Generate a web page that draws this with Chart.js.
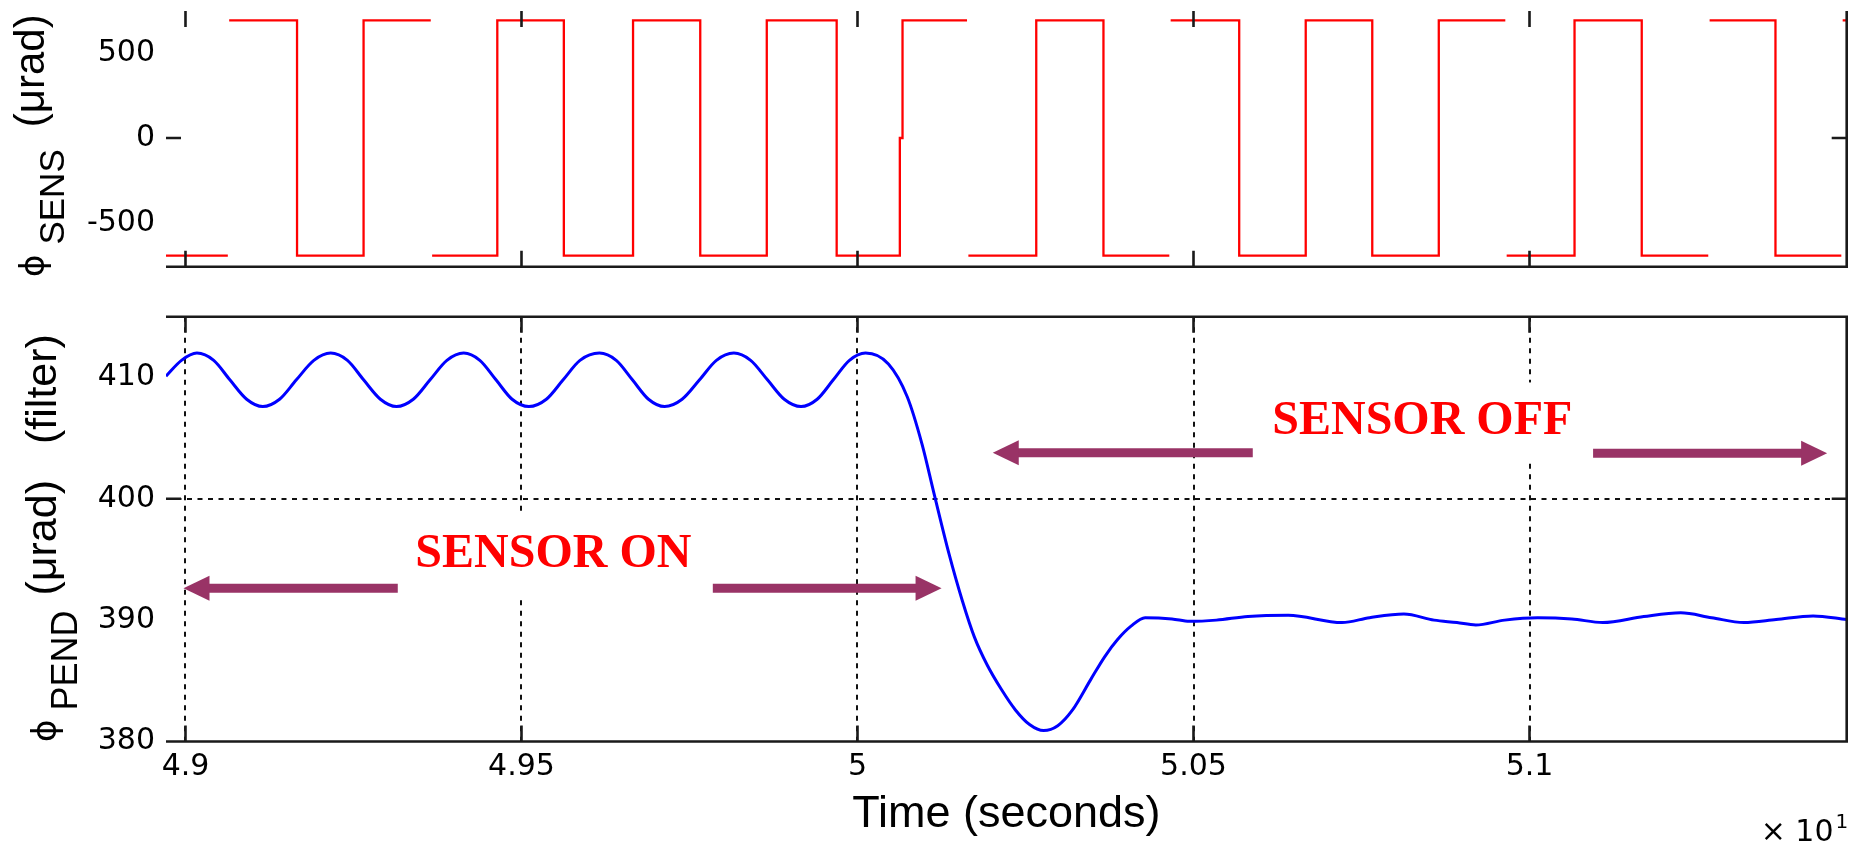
<!DOCTYPE html>
<html>
<head>
<meta charset="utf-8">
<script src="https://cdn.jsdelivr.net/npm/chart.js@4.4.1/dist/chart.umd.min.js"></script>
<style>
html, body { margin: 0; padding: 0; background: #ffffff; width: 1853px; height: 843px; overflow: hidden; }
#sens { position: absolute; left: 0; top: 0; }
#pend { position: absolute; left: 0; top: 290px; }
</style>
</head>
<body>
<canvas id="sens" width="1853" height="280"></canvas>
<canvas id="pend" width="1853" height="553"></canvas>
<script>
// ---------- data (time axis in units of 10 s, as in the original "x 10^1") ----------
const xMin = 4.8971;
const xMax = 5.1472;
const xTickValues = [4.9, 4.95, 5.0, 5.05, 5.1];
const xTickLabels = ['4.9', '4.95', '5', '5.05', '5.1'];

// sensor signal (square wave, µrad). null = break in the plotted trace
const sensTimes = [4.8971, 4.9063, 4.9064, 4.9065, 4.9166, 4.9265, 4.9365, 4.9366, 4.9367, 4.9464,
  4.9563, 4.9666, 4.9766, 4.9865, 4.9969, 5.0063, 5.0067, 5.0163, 5.0164, 5.0165,
  5.0266, 5.0366, 5.0464, 5.0465, 5.0466, 5.0568, 5.0667, 5.0766, 5.0865, 5.0964,
  5.0965, 5.0966, 5.1067, 5.1167, 5.1266, 5.1267, 5.1268, 5.1366, 5.1464, 5.1465,
  5.1466, 5.1472];
const sensValues = [-690, -690, null, 690, -690, 690, 690, null, -690, 690,
  -690, 690, -690, 690, -690, 0, 690, 690, null, -690,
  690, -690, -690, null, 690, -690, 690, -690, 690, 690,
  null, -690, 690, -690, -690, null, 690, -690, -690, null,
  690, 690];
const sensMin = -755, sensMax = 745;
const sensTickValues = [-500, 0, 500];
const sensTickLabels = ['-500', '0', '500'];
const sensMarkedTicks = [0];

// pendulum angle (filtered, µrad)
const pendTimes = [4.8971, 4.8994, 4.9017, 4.9042, 4.9066, 4.9091, 4.9115, 4.9140, 4.9165, 4.9191,
  4.9216, 4.9241, 4.9265, 4.9290, 4.9314, 4.9339, 4.9364, 4.9389, 4.9414, 4.9438,
  4.9462, 4.9486, 4.9511, 4.9537, 4.9562, 4.9587, 4.9616, 4.9641, 4.9665, 4.9689,
  4.9713, 4.9739, 4.9765, 4.9790, 4.9816, 4.9841, 4.9866, 4.9891, 4.9916, 4.9940,
  4.9964, 4.9988, 5.0012, 5.0046, 5.0074, 5.0096, 5.0114, 5.0136, 5.0156, 5.0174,
  5.0193, 5.0214, 5.0235, 5.0256, 5.0277, 5.0298, 5.0320, 5.0347, 5.0368, 5.0387,
  5.0407, 5.0428, 5.0468, 5.0494, 5.0534, 5.0581, 5.0641, 5.0721, 5.0762, 5.0813,
  5.0858, 5.0892, 5.0920, 5.0963, 5.1012, 5.1063, 5.1109, 5.1170, 5.1225, 5.1271,
  5.1319, 5.1367, 5.1422, 5.1472];
const pendValues = [410.1, 411.4, 412.0, 411.4, 409.8, 408.2, 407.6, 408.2, 409.8, 411.4,
  412.0, 411.4, 409.8, 408.2, 407.6, 408.2, 409.8, 411.4, 412.0, 411.4,
  409.8, 408.2, 407.6, 408.2, 409.8, 411.4, 412.0, 411.4, 409.8, 408.2,
  407.6, 408.2, 409.8, 411.4, 412.0, 411.4, 409.8, 408.2, 407.6, 408.2,
  409.8, 411.4, 412.0, 411.1, 408.4, 404.5, 400.4, 395.5, 391.6, 388.6,
  386.3, 384.3, 382.6, 381.4, 380.9, 381.3, 382.6, 385.1, 387.0, 388.4,
  389.5, 390.2, 390.1, 389.9, 390.0, 390.3, 390.4, 389.8, 390.2, 390.5,
  390.0, 389.8, 389.6, 390.0, 390.2, 390.1, 389.8, 390.3, 390.6, 390.2,
  389.8, 390.05, 390.35, 390.05];
const pendMin = 380, pendMax = 415;
const pendTickValues = [380, 390, 400, 410];
const pendTickLabels = ['380', '390', '400', '410'];
const pendMarkedTicks = [400];
const pendGridValues = [400];

// annotations (data coordinates)
const noteLabels = [
  { text: 'SENSOR ON', x: 4.95474, y: 395.37 },
  { text: 'SENSOR OFF', x: 5.08405, y: 406.37 }
];
const noteArrows = [
  { from: 4.93159, to: 4.8997, y: 392.63 },
  { from: 4.97847, to: 5.01251, y: 392.63 },
  { from: 5.05882, to: 5.02013, y: 403.8 },
  { from: 5.10946, to: 5.14429, y: 403.75 }
];

// axis titles (rotated, with subscripts)
const sensTitleParts = [
  { text: 'ϕ', font: '34px "DejaVu Sans"', shift: 0 },
  { gap: 10 },
  { text: 'SENS', font: '35px "Liberation Sans"', shift: 20 },
  { gap: 22 },
  { text: '(μrad)', font: '42px "Liberation Sans"', shift: 0 }
];
const pendTitleParts = [
  { text: 'ϕ', font: '34px "DejaVu Sans"', shift: 0 },
  { gap: 9 },
  { text: 'PEND', font: '36px "Liberation Sans"', shift: 20.5 },
  { gap: 15 },
  { text: '(μrad)', font: '43px "Liberation Sans"', shift: 0 },
  { gap: 36 },
  { text: '(filter)', font: '43px "Liberation Sans"', shift: 0 }
];

// ---------- styling ----------
const INK = '#1a1a1a';
const GRID_INK = '#111111';
const TICK_FONT = { family: 'DejaVu Sans', size: 30 };
Chart.defaults.font.family = 'DejaVu Sans';
Chart.defaults.color = '#000';

function drawRotated(ctx, parts, baseX, startY) {
  ctx.save();
  ctx.translate(baseX, startY);
  ctx.rotate(-Math.PI / 2);
  ctx.fillStyle = '#000000';
  ctx.textAlign = 'left';
  ctx.textBaseline = 'alphabetic';
  let pos = 0;
  for (let i = 0; i < parts.length; i++) {
    const p = parts[i];
    if (typeof p.gap === 'number') { pos += p.gap; continue; }
    ctx.font = p.font;
    ctx.fillText(p.text, pos, p.shift);
    pos += ctx.measureText(p.text).width;
  }
  ctx.restore();
}

function makeFrame(cfg) {
  return {
    id: 'frame',
    afterDraw(chart) {
      const { ctx, chartArea: a, scales } = chart;
      const x = scales.x, y = scales.y;
      ctx.save();
      ctx.strokeStyle = INK;
      ctx.lineWidth = 2.6;
      ctx.lineCap = 'butt';
      ctx.beginPath();
      if (cfg.top) { ctx.moveTo(a.left, a.top); ctx.lineTo(a.right + 1.3, a.top); }
      if (cfg.bottom) { ctx.moveTo(a.left, a.bottom); ctx.lineTo(a.right + 1.3, a.bottom); }
      if (cfg.right) { ctx.moveTo(a.right, a.top); ctx.lineTo(a.right, a.bottom); }
      x.ticks.forEach(t => {
        const p = x.getPixelForValue(t.value);
        ctx.moveTo(p, a.top); ctx.lineTo(p, a.top + 16);
        ctx.moveTo(p, a.bottom); ctx.lineTo(p, a.bottom - 16);
      });
      cfg.yTicks.forEach(v => {
        const p = y.getPixelForValue(v);
        ctx.moveTo(a.left, p); ctx.lineTo(a.left + 15, p);
        ctx.moveTo(a.right, p); ctx.lineTo(a.right - 15, p);
      });
      ctx.stroke();
      ctx.restore();

      drawRotated(ctx, cfg.titleParts, cfg.titleX, cfg.titleY);

      if (cfg.exponent) {
        ctx.save();
        ctx.fillStyle = '#000000';
        ctx.textAlign = 'left';
        ctx.textBaseline = 'alphabetic';
        ctx.font = '30px "DejaVu Sans"';
        const sx = a.right - 86;
        ctx.fillText('× 10', sx, 551);
        const w = ctx.measureText('× 10').width;
        ctx.font = '20px "DejaVu Sans"';
        ctx.fillText('1', sx + w + 2, 538);
        ctx.restore();
      }
    }
  };
}

const notesPlugin = {
  id: 'notes',
  afterDatasetsDraw(chart) {
    const { ctx, scales: { x, y } } = chart;
    ctx.save();
    ctx.font = 'bold 48px "Liberation Serif"';
    noteLabels.forEach(l => {
      const w = ctx.measureText(l.text).width;
      const cx = x.getPixelForValue(l.x), cy = y.getPixelForValue(l.y);
      ctx.fillStyle = '#ffffff';
      ctx.fillRect(cx - w / 2 - 10, cy - 39, w + 20, 80);
      ctx.fillStyle = '#ff0000';
      ctx.textAlign = 'center';
      ctx.textBaseline = 'middle';
      ctx.fillText(l.text, cx, cy);
    });
    const col = '#993366', headLen = 26, headHalf = 12.5;
    noteArrows.forEach(ar => {
      const x0 = x.getPixelForValue(ar.from), x1 = x.getPixelForValue(ar.to), py = y.getPixelForValue(ar.y);
      const dir = Math.sign(x1 - x0);
      const base = x1 - dir * headLen;
      ctx.strokeStyle = col;
      ctx.lineWidth = 9;
      ctx.lineCap = 'butt';
      ctx.beginPath(); ctx.moveTo(x0, py); ctx.lineTo(base + dir, py); ctx.stroke();
      ctx.fillStyle = col;
      ctx.beginPath();
      ctx.moveTo(x1, py);
      ctx.lineTo(base, py - headHalf);
      ctx.lineTo(base, py + headHalf);
      ctx.closePath();
      ctx.fill();
    });
    ctx.restore();
  }
};

function fixedTicks(values) {
  return scale => { scale.ticks = values.map(v => ({ value: v })); };
}
function fixWidth(w) {
  return s => { s.width = w; s.paddingTop = 0; s.paddingBottom = 0; s.paddingLeft = 0; s.paddingRight = 0; };
}
function fixHeight(h) {
  return s => { s.height = h; s.paddingTop = 0; s.paddingBottom = 0; s.paddingLeft = 0; s.paddingRight = 0; };
}

// ---------- top panel: sensor signal ----------
new Chart(document.getElementById('sens'), {
  type: 'line',
  data: {
    datasets: [{
      data: sensTimes.map((t, i) => ({ x: t, y: sensValues[i] })),
      borderColor: '#ff0000',
      borderWidth: 2.3,
      pointRadius: 0,
      stepped: true,
      fill: false,
      spanGaps: false
    }]
  },
  options: {
    responsive: false,
    animation: false,
    devicePixelRatio: 1,
    layout: { padding: { top: 11, right: 6.3, left: 0, bottom: 0 } },
    plugins: { legend: { display: false }, tooltip: { enabled: false } },
    scales: {
      x: {
        type: 'linear', min: xMin, max: xMax,
        afterBuildTicks: fixedTicks(xTickValues),
        afterFit: fixHeight(13.3),
        ticks: { display: false },
        grid: { display: false, drawTicks: false },
        border: { display: false }
      },
      y: {
        type: 'linear', min: sensMin, max: sensMax,
        afterBuildTicks: fixedTicks(sensTickValues),
        afterFit: fixWidth(166),
        ticks: { font: TICK_FONT, color: '#000', padding: 11, callback: (v, i) => sensTickLabels[i] },
        grid: { display: false, drawTicks: false },
        border: { display: false }
      }
    }
  },
  plugins: [makeFrame({
    top: false, bottom: true, right: true, yTicks: sensMarkedTicks,
    titleParts: sensTitleParts, titleX: 43.5, titleY: 277, exponent: false
  })]
});

// ---------- bottom panel: pendulum angle ----------
new Chart(document.getElementById('pend'), {
  type: 'line',
  data: {
    datasets: [{
      data: pendTimes.map((t, i) => ({ x: t, y: pendValues[i] })),
      borderColor: '#0000ff',
      borderWidth: 3,
      pointRadius: 0,
      cubicInterpolationMode: 'monotone',
      fill: false
    }]
  },
  options: {
    responsive: false,
    animation: false,
    devicePixelRatio: 1,
    layout: { padding: { top: 26.7, right: 6.3, left: 0, bottom: 0 } },
    plugins: { legend: { display: false }, tooltip: { enabled: false } },
    scales: {
      x: {
        type: 'linear', min: xMin, max: xMax,
        afterBuildTicks: fixedTicks(xTickValues),
        afterFit: fixHeight(101.5),
        ticks: { font: TICK_FONT, color: '#000', padding: 8, maxRotation: 0, callback: (v, i) => xTickLabels[i] },
        grid: { display: true, drawTicks: false, color: GRID_INK, lineWidth: 2 },
        border: { display: false, dash: [5, 5.5] },
        title: {
          display: true, text: 'Time (seconds)', color: '#000',
          font: { family: 'Liberation Sans', size: 45 },
          padding: { top: 0, bottom: 1.2 }
        }
      },
      y: {
        type: 'linear', min: pendMin, max: pendMax,
        afterBuildTicks: fixedTicks(pendTickValues),
        afterFit: fixWidth(166),
        ticks: { font: TICK_FONT, color: '#000', padding: 11, callback: (v, i) => pendTickLabels[i] },
        grid: {
          display: true, drawTicks: false, lineWidth: 2,
          color: c => (c.tick && pendGridValues.includes(c.tick.value)) ? GRID_INK : 'rgba(0,0,0,0)'
        },
        border: { display: false, dash: [5, 5.5] }
      }
    }
  },
  plugins: [makeFrame({
    top: true, bottom: true, right: true, yTicks: pendMarkedTicks,
    titleParts: pendTitleParts, titleX: 56, titleY: 452, exponent: true
  }), notesPlugin]
});
</script>
</body>
</html>
